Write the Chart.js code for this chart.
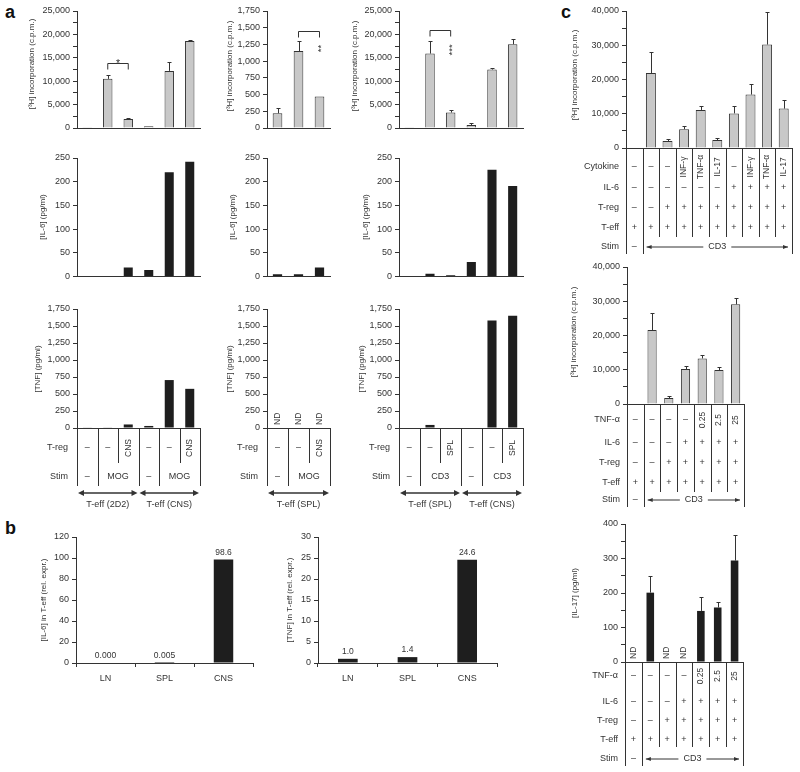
<!DOCTYPE html>
<html>
<head>
<meta charset="utf-8">
<script src="https://cdn.jsdelivr.net/npm/chart.js@4.4.0/dist/chart.umd.min.js"></script>
<style>
  body { margin: 0; background: #fff; }
  #fig { position: relative; width: 800px; height: 772px; overflow: hidden; }
  #fig canvas { position: absolute; }
  .tag { position: absolute; font: bold 18px "Liberation Sans", Arial, sans-serif; color: #111; }
</style>
</head>
<body>
<div id="fig">
  <div class="tag" style="left:5px;top:2px">a</div>
  <div class="tag" style="left:5px;top:518px">b</div>
  <div class="tag" style="left:561px;top:2px">c</div>
</div>
<script>
// ---- panel a, row 1: [3H] incorporation
const aCatsMOG = ['2D2', '2D2 MOG', '2D2 MOG+CNS', 'CNS', 'CNS MOG', 'CNS MOG+CNS'];
const aCatsSPL = ['SPL', 'SPL MOG', 'SPL MOG+CNS'];
const aCatsCD3 = ['SPL', 'SPL CD3', 'SPL CD3+SPL', 'CNS', 'CNS CD3', 'CNS CD3+SPL'];
const a1Vals = [80, 10500, 1900, 350, 12200, 18600];
const a1Errs = [null, 11300, 2100, null, 14000, 18900];
const a2Vals = [220, 1150, 470];
const a2Errs = [297, 1294, null];
const a3Vals = [80, 15900, 3300, 640, 12500, 17900];
const a3Errs = [null, 18600, 3750, 1060, 12750, 19000];
// ---- row 2: IL-6
const a4Vals = [1.4, 1.4, 19, 14, 220, 242];
const a5Vals = [5, 5, 19];
const a6Vals = [0, 6, 3, 31, 225, 191];
// ---- row 3: TNF
const a7Vals = [6, 9, 52, 30, 705, 576];
const a8Vals = [null, null, null];
const a9Vals = [0, 45, 0, 0, 1581, 1651];
// tables under panel a
const aTregMOG = ['–', '–', 'CNS', '–', '–', 'CNS'];
const aStimMOG = [['–', 1], ['MOG', 2], ['–', 1], ['MOG', 2]];
const aGroupMOG = [['T-eff (2D2)', 3], ['T-eff (CNS)', 3]];
const aTregSPL = ['–', '–', 'CNS'];
const aStimSPL = [['–', 1], ['MOG', 2]];
const aGroupSPL = [['T-eff (SPL)', 3]];
const aTregCD3 = ['–', '–', 'SPL', '–', '–', 'SPL'];
const aStimCD3 = [['–', 1], ['CD3', 2], ['–', 1], ['CD3', 2]];
const aGroupCD3 = [['T-eff (SPL)', 3], ['T-eff (CNS)', 3]];

// ---- panel b
const bCats = ['LN', 'SPL', 'CNS'];
const b1Vals = [0.000, 0.005, 98.6];
const b1Text = ['0.000', '0.005', '98.6'];
const b2Vals = [1.0, 1.4, 24.6];
const b2Text = ['1.0', '1.4', '24.6'];

// ---- panel c
const c1Cats = ['1', '2', '3', '4', '5', '6', '7', '8', '9', '10'];
const c1Vals = [150, 21900, 2050, 5500, 11100, 2300, 10100, 15600, 30200, 11500];
const c1Errs = [null, 28000, 2500, 6300, 12200, 2900, 12200, 18600, 39700, 14000];
const c1Cytokine = ['–', '–', '–', 'INF-γ', 'TNF-α', 'IL-17', '–', 'INF-γ', 'TNF-α', 'IL-17'];
const c1IL6 = ['–', '–', '–', '–', '–', '–', '+', '+', '+', '+'];
const c1Treg = ['–', '–', '+', '+', '+', '+', '+', '+', '+', '+'];
const c1Teff = ['+', '+', '+', '+', '+', '+', '+', '+', '+', '+'];
const c1Stim = [['–', 1], ['CD3', 9, true]];
const c2Cats = ['1', '2', '3', '4', '5', '6', '7'];
const c2Vals = [150, 21600, 1750, 10200, 13300, 9900, 29100];
const c2Errs = [null, 26700, 2400, 11100, 14400, 10700, 31000];
const c3Vals = [null, 201, null, null, 148, 158, 294];
const c3Errs = [null, 250, null, null, 188, 175, 368];
const cTNF = ['–', '–', '–', '–', '0.25', '2.5', '25'];
const cIL6 = ['–', '–', '–', '+', '+', '+', '+'];
const cTreg = ['–', '–', '+', '+', '+', '+', '+'];
const cTeff = ['+', '+', '+', '+', '+', '+', '+'];
const cStim = [['–', 1], ['CD3', 6, true]];

const INK = '#333';
const GRAY = '#c8c8c8';
const BLACK = '#1e1e1e';
const FAMILY = '"Liberation Sans", Arial, sans-serif';
const H3 = '[³H] incorporation (c.p.m.)';
Chart.defaults.font.family = FAMILY;

const fig = document.getElementById('fig');

function text(ctx, s, x, y, o) {
    o = o || {};
    ctx.save();
    ctx.translate(x, y);
    if (o.rot) ctx.rotate(-Math.PI / 2);
    ctx.font = (o.size || 9) + 'px ' + FAMILY;
    ctx.textAlign = o.align || 'center';
    ctx.textBaseline = o.base || 'middle';
    ctx.fillStyle = INK;
    ctx.fillText(s, 0, 0);
    ctx.restore();
}

function line(ctx, x1, y1, x2, y2) {
    ctx.beginPath();
    ctx.moveTo(x1, y1);
    ctx.lineTo(x2, y2);
    ctx.stroke();
}

function head(ctx, x, y, dir, len, half) {
    ctx.beginPath();
    ctx.moveTo(x, y);
    ctx.lineTo(x - dir * len, y - half);
    ctx.lineTo(x - dir * len, y + half);
    ctx.closePath();
    ctx.fill();
}

function drawTable(ctx, chart, t, ox, oy) {
    const x = chart.scales.x;
    const n = chart.data.labels.length;
    const edge = i => i === 0 ? x.left : i === n ? x.right : (x.getPixelForValue(i - 1) + x.getPixelForValue(i)) / 2;
    const zero = chart.scales.y.getPixelForValue(0);
    const full = new Set([0, n]);
    let k = 0;
    t.stim.forEach(s => { k += s[1]; full.add(k); });
    ctx.lineWidth = 1;
    for (let i = 0; i <= n; i++) {
        const xx = Math.round(edge(i)) + 0.5;
        line(ctx, xx, zero, xx, (full.has(i) ? t.fullBottom : t.shortBottom) - oy);
    }
    for (const r of t.rows) {
        text(ctx, r.label, x.left - t.gap, r.y - oy, {align: 'right'});
        r.cells.forEach((c, i) => text(ctx, c, x.getPixelForValue(i), r.y - oy, {rot: c.length > 1, size: c.length > 1 ? 8.5 : 9}));
    }
    text(ctx, 'Stim', x.left - t.gap, t.stimY - oy, {align: 'right'});
    k = 0;
    for (const [s, span, arrow] of t.stim) {
        const l = edge(k), r = edge(k + span);
        k += span;
        const yy = t.stimY - oy, mid = (l + r) / 2;
        if (arrow) {
            ctx.font = '9px ' + FAMILY;
            const w = ctx.measureText(s).width / 2 + 5;
            line(ctx, l + 4, yy, mid - w, yy);
            line(ctx, mid + w, yy, r - 4, yy);
            head(ctx, l + 4, yy, -1, 5, 2);
            head(ctx, r - 4, yy, 1, 5, 2);
        }
        text(ctx, s, mid, yy);
    }
    if (t.groups) {
        k = 0;
        ctx.lineWidth = 1.5;
        for (const [s, span] of t.groups) {
            const l = edge(k) + 1, r = edge(k + span) - 1;
            k += span;
            const yy = t.arrowY - oy;
            line(ctx, l + 4, yy, r - 4, yy);
            head(ctx, l, yy, -1, 6, 3);
            head(ctx, r, yy, 1, 6, 3);
            text(ctx, s, (l + r) / 2, t.groupY - oy, {size: 9});
        }
    }
}

function extras(p) {
    return {
        id: 'extras',
        afterDraw(chart) {
            const ctx = chart.ctx, x = chart.scales.x, y = chart.scales.y;
            const ox = p.box[0], oy = p.box[1];
            ctx.save();
            ctx.strokeStyle = INK;
            ctx.fillStyle = INK;
            ctx.lineWidth = 1;
            text(ctx, p.title, p.titleAt[0] - ox, p.titleAt[1] - oy, {rot: true, size: 8});
            // upper error whiskers
            (p.errs || []).forEach((e, i) => {
                if (e == null) return;
                const cx = Math.round(x.getPixelForValue(i)) + 0.5;
                const y1 = Math.round(y.getPixelForValue(e)) + 0.5;
                line(ctx, cx, y.getPixelForValue(p.values[i]), cx, y1);
                line(ctx, cx - 2, y1, cx + 2, y1);
            });
            // significance bracket
            if (p.bracket) {
                const b = p.bracket;
                const x1 = x.getPixelForValue(b.from), x2 = x.getPixelForValue(b.to);
                const yb = Math.round(y.getPixelForValue(b.level)) + 0.5;
                ctx.beginPath();
                ctx.moveTo(x1, yb + 6); ctx.lineTo(x1, yb); ctx.lineTo(x2, yb); ctx.lineTo(x2, yb + 6);
                ctx.stroke();
                if (b.rot) text(ctx, b.mark, x2 + 2, y.getPixelForValue(b.markLevel), {rot: true, size: 9.5});
                else text(ctx, b.mark, (x1 + x2) / 2, yb + 3, {size: 10.5, base: 'alphabetic'});
            }
            // not detected
            (p.nd || []).forEach(i => text(ctx, 'ND', x.getPixelForValue(i), y.getPixelForValue(0) - 3, {rot: true, align: 'left', size: 8.5}));
            // numbers over bars
            (p.valueText || []).forEach((s, i) => text(ctx, s, x.getPixelForValue(i), y.getPixelForValue(p.values[i]) - 3, {size: 8.5, base: 'bottom'}));
            if (p.table) drawTable(ctx, chart, p.table, ox, oy);
            ctx.restore();
        }
    };
}

function panel(p) {
    const [cl, ct, cw, ch] = p.box;
    const [ax, ty, rx, zy] = p.area;
    const cv = document.createElement('canvas');
    cv.width = cw;
    cv.height = ch;
    cv.style.left = cl + 'px';
    cv.style.top = ct + 'px';
    fig.appendChild(cv);
    return new Chart(cv, {
        type: 'bar',
        data: {
            labels: p.labels,
            datasets: [{
                data: p.values,
                backgroundColor: p.fill,
                borderColor: p.edge || p.fill,
                borderWidth: p.edge ? 1 : 0,
                barPercentage: p.bar,
                categoryPercentage: 1
            }]
        },
        options: {
            responsive: false,
            animation: false,
            devicePixelRatio: 1,
            events: [],
            layout: {padding: {left: 0, top: ty - ct, right: cl + cw - rx, bottom: 0}},
            plugins: {legend: {display: false}, tooltip: {enabled: false}},
            scales: {
                x: {
                    grid: {drawOnChartArea: false, drawTicks: !!p.xTicks, tickLength: 4, color: INK, offset: true},
                    border: {color: INK},
                    ticks: {display: !!p.xTicks, font: {size: 9}, color: INK, padding: 6, autoSkip: false, maxRotation: 0},
                    afterFit: s => { s.height = ct + ch - zy; }
                },
                y: {
                    min: 0,
                    max: p.max,
                    grid: {drawOnChartArea: false, tickLength: 4, color: INK},
                    border: {color: INK},
                    ticks: {
                        stepSize: p.step, autoSkip: false, font: {size: 9}, color: INK, padding: 3,
                        callback: v => v % p.major === 0 ? v.toLocaleString('en-US') : ''
                    },
                    afterFit: s => { s.width = ax - cl; }
                }
            }
        },
        plugins: [extras(p)]
    });
}

function aTable(treg, stim, groups) {
    return {rows: [{label: 'T-reg', y: 448, cells: treg}], stim: stim, stimY: 477, shortBottom: 463,
            fullBottom: 486, groups: groups, arrowY: 493, groupY: 505, gap: 9};
}

// panel a
panel({box: [0, 0, 215, 140], area: [77, 11, 200, 128], labels: aCatsMOG, values: a1Vals, errs: a1Errs,
       fill: GRAY, edge: INK, bar: 0.46, max: 25000, step: 2500, major: 5000, title: H3, titleAt: [32, 64],
       bracket: {from: 1, to: 2, level: 13800, mark: '*'}});
panel({box: [205, 0, 135, 140], area: [267, 11, 330, 128], labels: aCatsSPL, values: a2Vals, errs: a2Errs,
       fill: GRAY, edge: INK, bar: 0.46, max: 1750, step: 250, major: 250, title: H3, titleAt: [230, 66],
       bracket: {from: 1, to: 2, level: 1452, mark: '**', markLevel: 1190, rot: true}});
panel({box: [340, 0, 195, 140], area: [399, 11, 523, 128], labels: aCatsCD3, values: a3Vals, errs: a3Errs,
       fill: GRAY, edge: INK, bar: 0.46, max: 25000, step: 2500, major: 5000, title: H3, titleAt: [355, 66],
       bracket: {from: 1, to: 2, level: 20900, mark: '***', markLevel: 16700, rot: true}});

panel({box: [0, 140, 215, 145], area: [77, 158, 200, 277], labels: aCatsMOG, values: a4Vals,
       fill: BLACK, bar: 0.44, max: 250, step: 50, major: 50, title: '[IL-6] (pg/ml)', titleAt: [43, 217]});
panel({box: [205, 140, 135, 145], area: [267, 158, 330, 277], labels: aCatsSPL, values: a5Vals,
       fill: BLACK, bar: 0.44, max: 250, step: 50, major: 50, title: '[IL-6] (pg/ml)', titleAt: [233, 217]});
panel({box: [340, 140, 195, 145], area: [399, 158, 523, 277], labels: aCatsCD3, values: a6Vals,
       fill: BLACK, bar: 0.44, max: 250, step: 50, major: 50, title: '[IL-6] (pg/ml)', titleAt: [366, 217]});

panel({box: [0, 290, 215, 225], area: [77, 309, 200, 428], labels: aCatsMOG, values: a7Vals,
       fill: BLACK, bar: 0.44, max: 1750, step: 250, major: 250, title: '[TNF] (pg/ml)', titleAt: [38, 369],
       table: aTable(aTregMOG, aStimMOG, aGroupMOG)});
panel({box: [205, 290, 135, 225], area: [267, 309, 330, 428], labels: aCatsSPL, values: a8Vals, nd: [0, 1, 2],
       fill: BLACK, bar: 0.44, max: 1750, step: 250, major: 250, title: '[TNF] (pg/ml)', titleAt: [230, 369],
       table: aTable(aTregSPL, aStimSPL, aGroupSPL)});
panel({box: [340, 290, 195, 225], area: [399, 309, 523, 428], labels: aCatsCD3, values: a9Vals,
       fill: BLACK, bar: 0.44, max: 1750, step: 250, major: 250, title: '[TNF] (pg/ml)', titleAt: [362, 369],
       table: aTable(aTregCD3, aStimCD3, aGroupCD3)});

// panel b
panel({box: [0, 520, 280, 180], area: [76, 537, 253, 663], labels: bCats, values: b1Vals, valueText: b1Text,
       fill: BLACK, bar: 0.33, max: 120, step: 20, major: 20, xTicks: true,
       title: '[IL-6] in T-eff (rel. expr.)', titleAt: [44, 600]});
panel({box: [270, 520, 250, 180], area: [318, 537, 497, 663], labels: bCats, values: b2Vals, valueText: b2Text,
       fill: BLACK, bar: 0.33, max: 30, step: 5, major: 5, xTicks: true,
       title: '[TNF] in T-eff (rel. expr.)', titleAt: [290, 600]});

// panel c
panel({box: [560, 0, 240, 260], area: [626, 11, 792, 148], labels: c1Cats, values: c1Vals, errs: c1Errs,
       fill: GRAY, edge: INK, bar: 0.6, max: 40000, step: 5000, major: 10000, title: H3, titleAt: [575, 75],
       table: {rows: [{label: 'Cytokine', y: 167, cells: c1Cytokine}, {label: 'IL-6', y: 188, cells: c1IL6},
                      {label: 'T-reg', y: 208, cells: c1Treg}, {label: 'T-eff', y: 228, cells: c1Teff}],
               stim: c1Stim, stimY: 247, shortBottom: 237, fullBottom: 254, gap: 7}});
panel({box: [560, 255, 240, 255], area: [627, 267, 744, 404], labels: c2Cats, values: c2Vals, errs: c2Errs,
       fill: GRAY, edge: INK, bar: 0.55, max: 40000, step: 5000, major: 10000, title: H3, titleAt: [574, 332],
       table: {rows: [{label: 'TNF-α', y: 420, cells: cTNF}, {label: 'IL-6', y: 443, cells: cIL6},
                      {label: 'T-reg', y: 463, cells: cTreg}, {label: 'T-eff', y: 483, cells: cTeff}],
               stim: cStim, stimY: 500, shortBottom: 492, fullBottom: 507, gap: 7}});
panel({box: [560, 512, 240, 260], area: [625, 524, 743, 662], labels: c2Cats, values: c3Vals, errs: c3Errs, nd: [0, 2, 3],
       fill: BLACK, bar: 0.45, max: 400, step: 50, major: 100, title: '[IL-17] (pg/ml)', titleAt: [575, 593],
       table: {rows: [{label: 'TNF-α', y: 676, cells: cTNF}, {label: 'IL-6', y: 702, cells: cIL6},
                      {label: 'T-reg', y: 721, cells: cTreg}, {label: 'T-eff', y: 740, cells: cTeff}],
               stim: cStim, stimY: 759, shortBottom: 747, fullBottom: 766, gap: 7}});
</script>
</body>
</html>
